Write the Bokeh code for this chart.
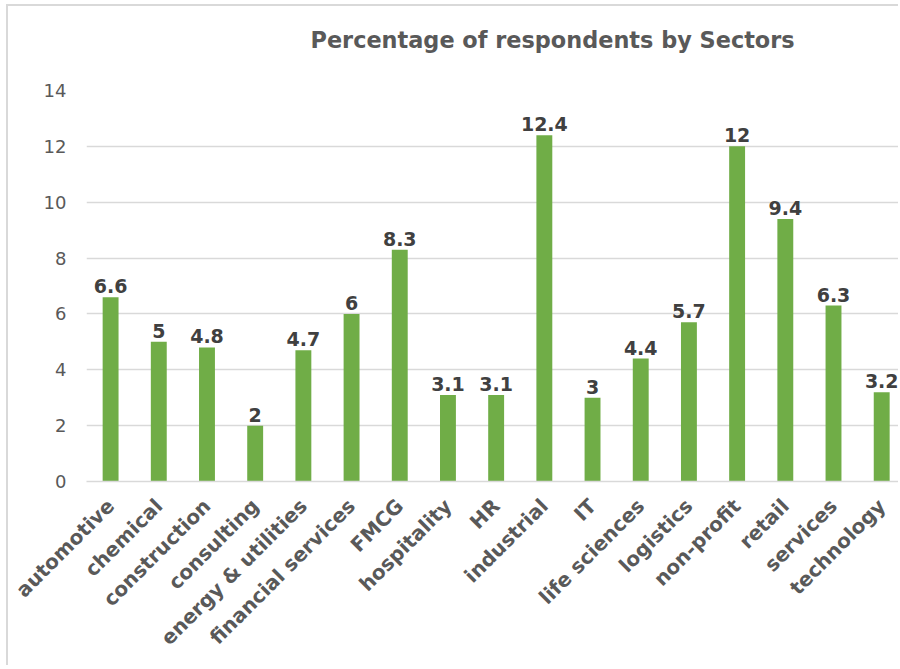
from math import pi
from bokeh.plotting import figure
from bokeh.models import Range1d, FixedTicker, ColumnDataSource
from bokeh.core.properties import value
from bokeh.embed import file_html
from bokeh.resources import INLINE

sectors = ["automotive", "chemical", "construction", "consulting", "energy & utilities",
           "financial services", "FMCG", "hospitality", "HR", "industrial", "IT",
           "life sciences", "logistics", "non-profit", "retail", "services", "technology"]
percent = [6.6, 5, 4.8, 2, 4.7, 6, 8.3, 3.1, 3.1, 12.4, 3, 4.4, 5.7, 12, 9.4, 6.3, 3.2]
y_ticks = [0, 2, 4, 6, 8, 10, 12, 14]
title_text = "Percentage of respondents by Sectors"

FONT = "DejaVu Sans"
GRAY = "#595959"
GRID = "#d9d9d9"

idx = list(range(len(sectors)))
src = ColumnDataSource(dict(x=idx, y=percent, lab=[f"{v:g}" for v in percent]))

p = figure(width=892, height=661, output_backend="svg", toolbar_location=None,
           x_range=Range1d(-0.5, 16.39), y_range=Range1d(0, 14),
           min_border_left=78, min_border_right=0, min_border_top=84, min_border_bottom=186,
           title=title_text + "\n ", background_fill_color="white", border_fill_color="white",
           styles={"border-left": "2px solid #d9d9d9", "border-top": "2px solid #d9d9d9",
                   "margin-left": "6px", "margin-top": "4px"})
p.outline_line_color = None

p.title.text_font = FONT
p.title.text_font_style = "bold"
p.title.text_font_size = "22.4px"
p.title.text_color = GRAY
p.title.align = "left"
p.title.offset = 224
p.title.vertical_align = "top"
p.title.standoff = 20

p.vbar(x="x", top="y", width=0.33, source=src, fill_color="#70AD47", line_color=None)
p.text(x="x", y="y", text="lab", source=src, text_align="center", text_baseline="alphabetic",
       y_offset=-11, text_font=value(FONT), text_font_style="bold", text_font_size="19px",
       text_color="#404040")

p.xgrid.grid_line_color = None
p.ygrid.grid_line_color = GRID
p.ygrid.grid_line_width = 1.5
p.ygrid.ticker = FixedTicker(ticks=y_ticks)

ya = p.yaxis[0]
ya.ticker = FixedTicker(ticks=y_ticks)
ya.axis_line_color = None
ya.major_tick_line_color = None
ya.minor_tick_line_color = None
ya.major_label_text_font = FONT
ya.major_label_text_font_size = "18px"
ya.major_label_text_color = GRAY
ya.major_label_standoff = 14

xa = p.xaxis[0]
xa.ticker = FixedTicker(ticks=idx)
xa.major_label_overrides = {i: s for i, s in zip(idx, sectors)}
xa.axis_line_color = GRID
xa.axis_line_width = 1.5
xa.major_tick_line_color = None
xa.minor_tick_line_color = None
xa.major_label_orientation = pi / 4
xa.major_label_text_font = FONT
xa.major_label_text_font_style = "bold"
xa.major_label_text_font_size = "20px"
xa.major_label_text_color = GRAY
xa.major_label_standoff = 15

open("out.html", "w").write(file_html(p, INLINE))
